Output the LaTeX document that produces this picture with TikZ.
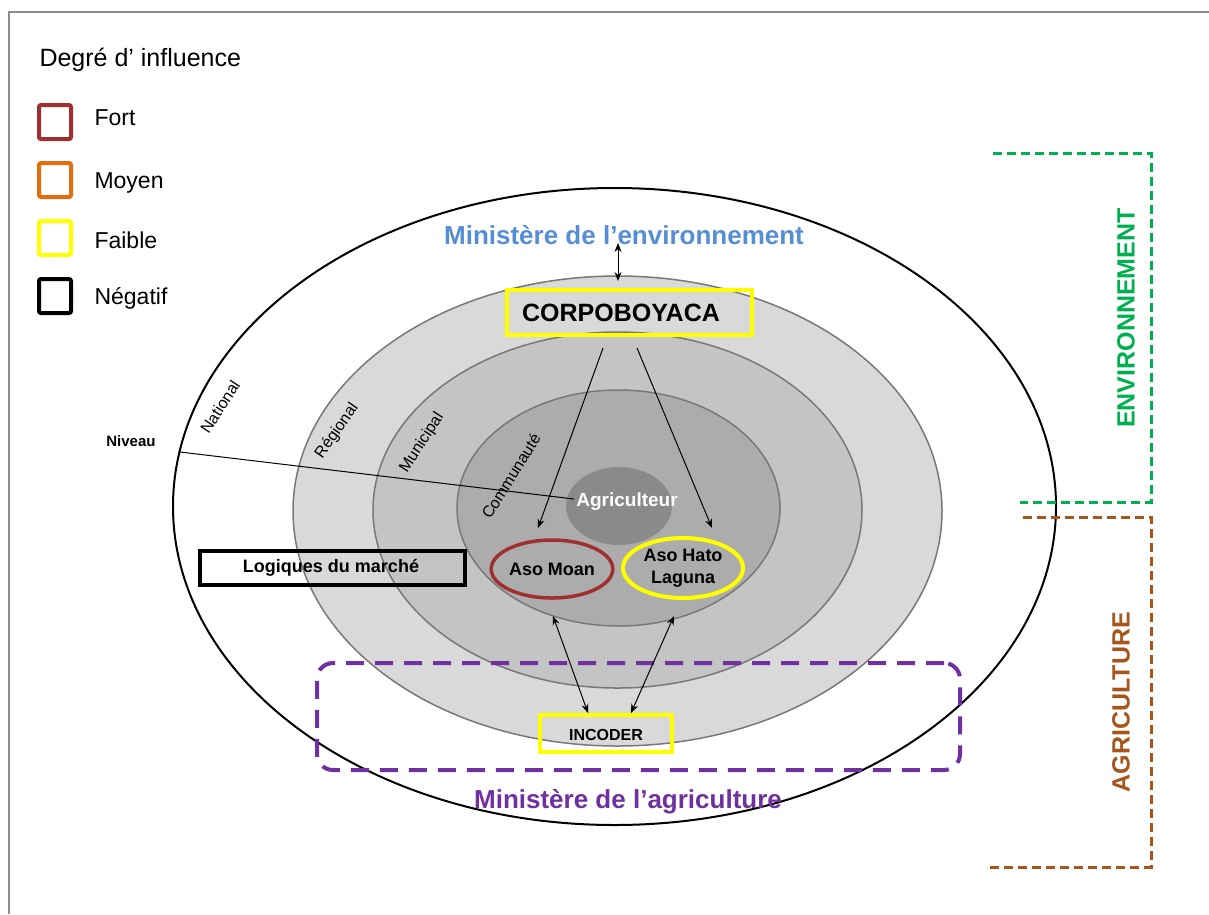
\documentclass[tikz,border=0pt]{standalone}
\usepackage{fontspec}
\setmainfont{Liberation Sans}
\usetikzlibrary{shapes.geometric,arrows.meta}
\definecolor{fortc}{RGB}{160,48,47}
\definecolor{moyenc}{RGB}{228,108,10}
\definecolor{faiblec}{RGB}{255,255,0}
\definecolor{ringline}{RGB}{120,120,120}
\definecolor{regc}{RGB}{217,217,217}
\definecolor{munc}{RGB}{196,196,196}
\definecolor{comc}{RGB}{172,172,172}
\definecolor{agric}{RGB}{138,138,138}
\definecolor{envblue}{RGB}{85,142,213}
\definecolor{purp}{RGB}{112,48,160}
\definecolor{greenc}{RGB}{0,176,80}
\definecolor{brownc}{RGB}{166,86,26}
\definecolor{framec}{RGB}{140,140,140}
\tikzset{
  ring/.style={ellipse, draw=ringline, line width=1.5, inner sep=0},
  legbox/.style={draw=#1, line width=4, rounded corners=2, minimum width=32, minimum height=34, inner sep=0},
  legtxt/.style={anchor=west, font=\fontsize{23}{27}\selectfont},
  ringlab/.style={font=\fontsize{16}{19}\selectfont, rotate=57},
  actor/.style={font=\bfseries\fontsize{18}{21}\selectfont, align=center, inner sep=0},
  biarrow/.style={{Stealth[length=9,width=7]}-{Stealth[length=9,width=7]}, line width=1},
  onearrow/.style={-{Stealth[length=9,width=7]}, line width=1},
  ministry/.style={font=\bfseries\fontsize{26}{30}\selectfont},
  bigsector/.style={font=\bfseries\fontsize{25}{30}\selectfont, rotate=90},
}
\begin{document}
\begin{tikzpicture}[x=1pt,y=-1pt]
\useasboundingbox (0,0) rectangle (1209,914);
\fill[white] (0,0) rectangle (1209,914);
\draw[framec, line width=2.5] (9,914) -- (9,12) -- (1209,12);

% legend
\node[anchor=west, font=\fontsize{25}{30}\selectfont] (legtitle) at (36,60) {Degré d’ influence};
\node[legbox=fortc] (lfort) at (55,122) {};
\node[legbox=moyenc] (lmoyen) at (55,180) {};
\node[legbox=faiblec] (lfaible) at (55,238) {};
\node[legbox=black] (lneg) at (55,296) {};
\node[legtxt] (tfort) at (91,118) {Fort};
\node[legtxt] (tmoyen) at (91,183) {Moyen};
\node[legtxt] (tfaible) at (91,240) {Faible};
\node[legtxt] (tneg) at (91,298) {Négatif};

% rings
\node[ellipse, draw=black, line width=2, fill=white, minimum width=883, minimum height=637, inner sep=0] (national) at (614.5,506.5) {};
\node[ring, fill=regc, minimum width=649, minimum height=470] (regional) at (617.5,511) {};
\node[ring, fill=munc, minimum width=489, minimum height=356] (municipal) at (617.5,510) {};
\node[ring, fill=comc, minimum width=323, minimum height=236] (communaute) at (618.5,508) {};
\node[ellipse, fill=agric, minimum width=106, minimum height=78, inner sep=0] (agriell) at (619,506) {};
\node[actor, text=white, font=\bfseries\fontsize{19}{22}\selectfont] (agri) at (627,502) {Agriculteur};

% ring labels
\node[ringlab] (lnat) at (220,407) {National};
\node[ringlab, rotate=-2] (lreg) at (337,431) {Régional};
\node[ringlab] (lmun) at (422,443) {Municipal};
\node[ringlab, rotate=1] (lcom) at (511,476) {Communauté};
\node[font=\bfseries\fontsize{15}{18}\selectfont] (niveau) at (131,441) {Niveau};
\coordinate (nivstart) at (180,452);
\coordinate (nivend) at (574,499);
\draw[line width=1] (nivstart) -- (nivend);

% actors
\node[draw=faiblec, line width=4, minimum width=245, minimum height=45, inner sep=0] (corpo) at (629.5,312.5) {};
\node[font=\bfseries\fontsize{25}{30}\selectfont] (corpotxt) at (621,313) {CORPOBOYACA};
\node[ministry, text=envblue] (minenv) at (624,235) {Ministère de l’environnement};
\node[actor, ellipse, draw=fortc, line width=3.5, minimum width=114, minimum height=58] (moan) at (552,569) {Aso Moan};
\node[actor, ellipse, draw=faiblec, line width=4, minimum width=120, minimum height=60] (hato) at (683,568) {Aso Hato\\[1pt]Laguna};
\node[draw=black, line width=3.5, minimum width=265, minimum height=34, inner sep=0] (logiq) at (332.5,568) {};
\node[actor] (logiqtxt) at (331,568) {Logiques du marché};

% agriculture box
\node[draw=purp, line width=4, dash pattern=on 18 off 11, rounded corners=16, minimum width=643, minimum height=107, inner sep=0] (agribox) at (638.5,716.5) {};
\node[draw=faiblec, line width=4, minimum width=132, minimum height=37, inner sep=0] (incoder) at (606,733.5) {};
\node[actor, font=\bfseries\fontsize{16}{19}\selectfont] (incodertxt) at (606,735) {INCODER};
\node[ministry, text=purp] (minagri) at (628,802) {Ministère de l’agriculture};

% arrows
\coordinate (envtop) at (618,243);
\coordinate (corpotop) at (618,281);
\draw[biarrow] (envtop) -- (corpotop);
\coordinate (c1) at (603,348);
\coordinate (c2) at (637,348);
\coordinate (moantop) at (538,528);
\coordinate (hatotop) at (712,528);
\draw[onearrow] (c1) -- (moantop);
\draw[onearrow] (c2) -- (hatotop);
\coordinate (moanbot) at (553,616);
\coordinate (hatobot) at (674,616);
\coordinate (inc1) at (588,713);
\coordinate (inc2) at (631,713);
\draw[biarrow] (moanbot) -- (inc1);
\draw[biarrow] (hatobot) -- (inc2);

% sector brackets
\draw[greenc, line width=3, dash pattern=on 9 off 5] (993,153) -- (1151,153) -- (1151,502) -- (1020,502);
\node[bigsector, text=greenc] (env) at (1126,318) {ENVIRONNEMENT};
\draw[brownc, line width=3, dash pattern=on 9 off 5] (1023,517) -- (1151,517) -- (1151,867) -- (988,867);
\node[bigsector, text=brownc] (agr) at (1121,702) {AGRICULTURE};
\end{tikzpicture}
\end{document}
